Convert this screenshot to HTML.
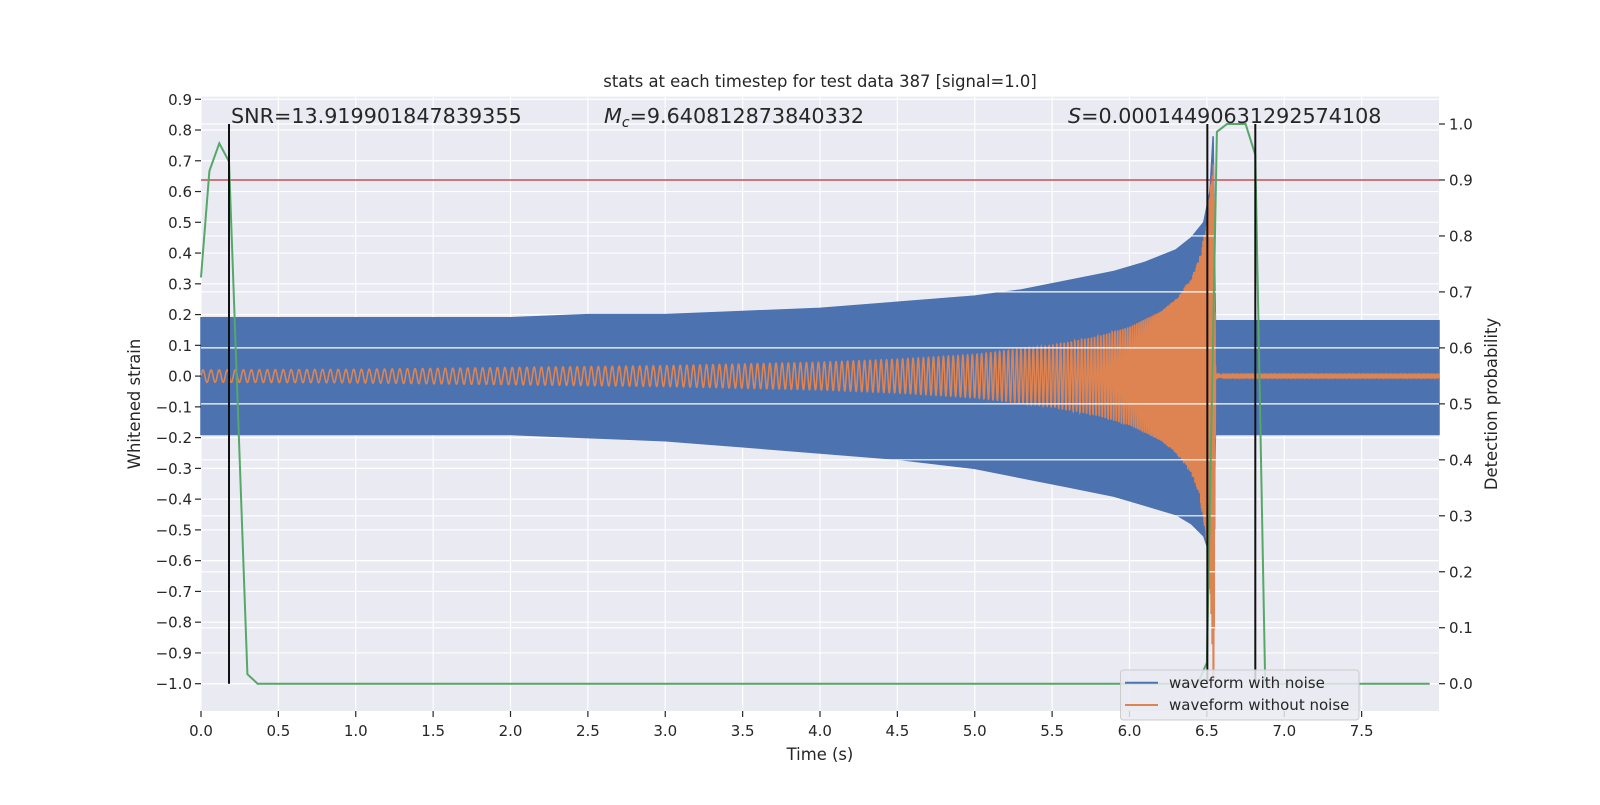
<!DOCTYPE html>
<html><head><meta charset="utf-8"><style>
body{margin:0;background:#fff;width:1600px;height:800px;overflow:hidden}
svg{font-family:"DejaVu Sans","Liberation Sans",sans-serif}
</style></head><body>
<svg id="chart" width="1600" height="800" xmlns="http://www.w3.org/2000/svg"></svg>
<script>
// ---- data ----
const xTicks = [0,0.5,1,1.5,2,2.5,3,3.5,4,4.5,5,5.5,6,6.5,7,7.5];
const yLeftTicks = [0.9,0.8,0.7,0.6,0.5,0.4,0.3,0.2,0.1,0,-0.1,-0.2,-0.3,-0.4,-0.5,-0.6,-0.7,-0.8,-0.9,-1.0];
const yRightTicks = [0,0.1,0.2,0.3,0.4,0.5,0.6,0.7,0.8,0.9,1.0];
// noisy waveform envelope
const blueT  = [0,0.5,1,1.5,2,2.5,3,3.5,4,4.5,5,5.3,5.6,5.9,6.1,6.3,6.4,6.48,6.52,6.54,6.555,6.6,7,7.5,8];
const blueUp = [0.19,0.19,0.19,0.19,0.19,0.2,0.2,0.21,0.22,0.24,0.26,0.28,0.31,0.34,0.37,0.41,0.45,0.5,0.6,0.78,0.18,0.18,0.18,0.18,0.18];
const blueLo = [-0.19,-0.19,-0.19,-0.19,-0.19,-0.2,-0.21,-0.23,-0.25,-0.27,-0.3,-0.33,-0.36,-0.39,-0.42,-0.45,-0.48,-0.52,-0.58,-0.6,-0.19,-0.19,-0.19,-0.19,-0.19];
// clean waveform (chirp) amplitude / frequency
const orT   = [0,1,2,3,4,4.5,5,5.5,5.8,6,6.2,6.3,6.4,6.45,6.5,6.53,6.545,6.556,6.6,8];
const orUp  = [0.02,0.022,0.028,0.034,0.045,0.055,0.07,0.1,0.13,0.16,0.21,0.25,0.32,0.38,0.5,0.65,0.7,0.01,0.002,0.002];
const orLo  = [-0.02,-0.022,-0.028,-0.034,-0.045,-0.055,-0.07,-0.1,-0.13,-0.16,-0.21,-0.25,-0.32,-0.38,-0.55,-0.8,-1.07,-0.01,-0.002,-0.002];
const orF   = [19,20,21,23,26,29,33,40,50,65,90,120,170,220,280,300,300,300,300,300];
// detection probability
const probT = [0,0.054,0.118,0.181,0.30,0.366,6.44,6.50,6.565,6.63,6.75,6.813,6.877,7.94];
const probV = [0.726,0.916,0.9655,0.933,0.017,0,0,0.0375,0.986,1.0,1.0,0.945,0,0];
const vlines = [0.181,6.503,6.813];
const threshold = 0.9;

// ---- axes ----
const L=201,R=1439,T=96.7,B=711;
const X=t=>L+(t-0)/8*(R-L);
const YL=v=>683.7-(v+1.0)*307.6;
const YR=p=>683.7-p*559.7;
const svg=document.getElementById('chart');
const NS='http://www.w3.org/2000/svg';
function mk(tag,attrs,parent){const e=document.createElementNS(NS,tag);for(const k in attrs)e.setAttribute(k,attrs[k]);(parent||svg).appendChild(e);return e;}
function interp(ts,vs,t){if(t<=ts[0])return vs[0];for(let i=1;i<ts.length;i++){if(t<=ts[i]){const f=(t-ts[i-1])/(ts[i]-ts[i-1]);return vs[i-1]+f*(vs[i]-vs[i-1]);}}return vs[vs.length-1];}

const bg=mk('rect',{x:L,y:T,width:R-L,height:B-T,fill:'#EAEAF2'});



const gl=mk('g',{stroke:'#fff','stroke-width':1.2});


xTicks.forEach(t=>mk('line',{x1:X(t),x2:X(t),y1:T,y2:B},gl));
yLeftTicks.forEach(v=>mk('line',{x1:L,x2:R,y1:YL(v),y2:YL(v)},gl));

// blue band
let pts=[];
for(let i=0;i<blueT.length;i++)pts.push(X(blueT[i]).toFixed(1)+','+YL(blueUp[i]).toFixed(1));
for(let i=blueT.length-1;i>=0;i--)pts.push(X(blueT[i]).toFixed(1)+','+YL(blueLo[i]).toFixed(1));
const blue=mk('polygon',{points:pts.join(' '),fill:'#4C72B0',stroke:'#4C72B0','stroke-width':1.5});



// orange chirp
let op=[],ph=0,dt=0.0006;
for(let t=0;t<=8;t+=dt){
  const f=interp(orT,orF,t);ph+=2*Math.PI*f*dt;
  const s=Math.sin(ph);
  const a=s>=0?interp(orT,orUp,t):-interp(orT,orLo,t);
  op.push(X(t).toFixed(2)+','+YL(a*s).toFixed(2));
}
const orange=mk('polyline',{points:op.join(' '),fill:'none',stroke:'#DD8452','stroke-width':1.6});



// right grid (twin axis, drawn on top)
const gr=mk('g',{stroke:'#fff','stroke-width':1.2});


yRightTicks.forEach(p=>mk('line',{x1:L,x2:R,y1:YR(p),y2:YR(p)},gr));

const red=mk('line',{x1:L,x2:R,y1:YR(threshold),y2:YR(threshold),stroke:'#C44E52','stroke-width':1.5});



const green=mk('polyline',{points:probT.map((t,i)=>X(t).toFixed(1)+','+YR(probV[i]).toFixed(1)).join(' '),fill:'none',stroke:'#55A868','stroke-width':2});



vlines.forEach(t=>{const l=mk('line',{x1:X(t),x2:X(t),y1:YR(1),y2:YR(0),stroke:'#111','stroke-width':2});

});

// ticks
const tk=mk('g',{fill:'#262626','font-size':15});


xTicks.forEach(t=>{mk('line',{x1:X(t),x2:X(t),y1:B,y2:B+6,stroke:'#262626','stroke-width':1.2},tk);
 const e=mk('text',{x:X(t),y:736,'text-anchor':'middle'},tk);e.textContent=t.toFixed(1);});
yLeftTicks.forEach(v=>{mk('line',{x1:L-6,x2:L,y1:YL(v),y2:YL(v),stroke:'#262626','stroke-width':1.2},tk);
 const e=mk('text',{x:L-9,y:YL(v)+5.5,'text-anchor':'end'},tk);e.textContent=(v<0?'\u2212':'')+Math.abs(v).toFixed(1);});
yRightTicks.forEach(p=>{mk('line',{x1:R,x2:R+6,y1:YR(p),y2:YR(p),stroke:'#262626','stroke-width':1.2},tk);
 const e=mk('text',{x:R+10,y:YR(p)+5.5},tk);e.textContent=p.toFixed(1);});
</script>
<svg width="1600" height="800" style="position:absolute;left:0;top:0" xmlns="http://www.w3.org/2000/svg" font-family="DejaVu Sans, Liberation Sans, sans-serif" fill="#262626">
<text x="820" y="87" font-size="16.4" text-anchor="middle">stats at each timestep for test data 387 [signal=1.0]</text>
<text x="231" y="123" font-size="20.7">SNR=13.919901847839355</text>
<text x="604" y="123" font-size="20.7"><tspan font-style="italic">M</tspan><tspan font-style="italic" font-size="14" dy="4">c</tspan><tspan dy="-4">=9.640812873840332</tspan></text>
<text x="1068" y="123" font-size="20.7"><tspan font-style="italic">S</tspan>=0.00014490631292574108</text>
<text x="820" y="760" font-size="16.4" text-anchor="middle">Time (s)</text>
<text transform="translate(140,404) rotate(-90)" font-size="16.4" text-anchor="middle">Whitened strain</text>
<text transform="translate(1497,404) rotate(-90)" font-size="16.4" text-anchor="middle">Detection probability</text>
<g>
<rect x="1120.5" y="670" width="238.5" height="50" rx="3" fill="#EAEAF2" fill-opacity="0.85" stroke="#cccccc" stroke-width="1"/>
<line x1="1125" x2="1158" y1="682.7" y2="682.7" stroke="#4C72B0" stroke-width="2"/>
<text x="1169" y="688" font-size="15">waveform with noise</text>
<line x1="1125" x2="1158" y1="705" y2="705" stroke="#DD8452" stroke-width="2"/>
<text x="1169" y="710" font-size="15">waveform without noise</text>
</g>
</svg>
</body></html>
